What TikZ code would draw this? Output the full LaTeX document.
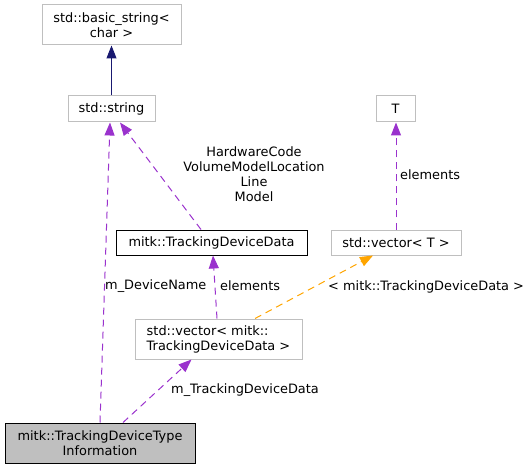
\documentclass[tikz,border=0pt]{standalone}
\usepackage{fontspec}
\setmainfont{DejaVu Sans}
\usetikzlibrary{arrows.meta}
\definecolor{extgray}{HTML}{BFBFBF}
\definecolor{mbrpurple}{HTML}{9A32CD}
\definecolor{tplorange}{HTML}{FFA500}
\definecolor{inhblue}{HTML}{191970}
\begin{document}
\begin{tikzpicture}[x=1pt,y=1pt,font=\fontsize{12.9}{15}\selectfont,
  ext/.style={draw=extgray,line width=1pt,inner sep=0pt},
  doc/.style={draw=black,line width=1pt,inner sep=0pt},
  lbl/.style={anchor=west,inner sep=0pt},
  dep/.style={mbrpurple,line width=1pt,dash pattern=on 7pt off 5pt,-{Triangle[length=13pt,width=10pt]}},
  tpl/.style={tplorange,line width=1pt,dash pattern=on 7pt off 5pt,-{Triangle[length=13pt,width=10pt]}},
  inh/.style={inhblue,line width=1pt,-{Triangle[length=13pt,width=10pt]}}]
\useasboundingbox (0,0) rectangle (532,469);
\coordinate (Bs) at (111.5,444);
\coordinate (St) at (111.5,360);
\coordinate (T) at (395.5,360);
\coordinate (Td) at (211.5,226.5);
\coordinate (Vt) at (396,226.5);
\coordinate (Vd) at (218.5,130);
\coordinate (Ti) at (100,26);
\node[ext,minimum width=139pt,minimum height=40pt,align=center] (bstr) at (Bs){std::basic\_string<\\char >};
\node[ext,minimum width=87pt,minimum height=26pt] (str) at (St){std::string};
\node[ext,minimum width=39pt,minimum height=26pt] (tparam) at (T){T};
\node[doc,minimum width=191pt,minimum height=25pt] (tdd) at (Td){mitk::TrackingDeviceData};
\node[ext,minimum width=130pt,minimum height=25pt] (vecT) at (Vt){std::vector< T >};
\node[ext,minimum width=167pt,minimum height=40pt,align=left] (vecTDD) at (Vd){std::vector< mitk::\\TrackingDeviceData >};
\node[doc,fill=extgray,minimum width=190pt,minimum height=40pt,align=center] (tdti) at (Ti){mitk::TrackingDeviceType\\Information};
\draw[inh] (str.north) -- (bstr.south);
\draw[dep] (tdti.north) -- ([xshift=-1.5pt]str.south);
\draw[dep] ([xshift=-10.5pt]tdd.north) -- ([xshift=8.5pt]str.south);
\draw[dep] ([xshift=-1.5pt]vecTDD.north) -- ([xshift=1.5pt]tdd.south);
\draw[tpl] ([xshift=36.5pt]vecTDD.north) -- ([xshift=-23pt]vecT.south);
\draw[dep] (vecT.north) -- ([xshift=0.5pt]tparam.south);
\draw[dep] ([xshift=23pt]tdti.north) -- ([xshift=-27pt]vecTDD.south);
\node[lbl] (lDevName) at (105,183){m\_DeviceName};
\node[align=center,inner sep=0pt] (lHw) at (254,294.5){HardwareCode\\VolumeModelLocation\\Line\\Model};
\node[lbl] (lElemD) at (220,183){elements};
\node[lbl] (lTpl) at (328,182.5){< mitk::TrackingDeviceData >};
\node[lbl] (lElemT) at (400,294){elements};
\node[lbl] (lTrData) at (171,78.5){m\_TrackingDeviceData};
\end{tikzpicture}
\end{document}
